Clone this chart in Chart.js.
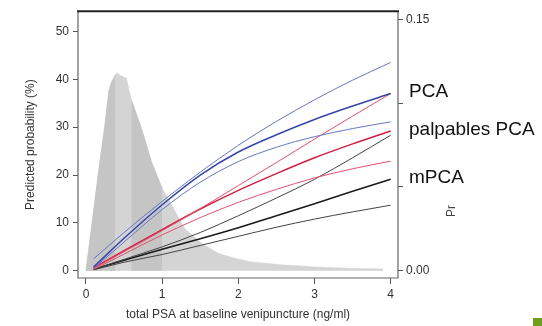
<!DOCTYPE html>
<html>
<head>
<meta charset="utf-8">
<script src="https://cdn.jsdelivr.net/npm/chart.js@4.4.1/dist/chart.umd.min.js"></script>
<style>
  html, body { margin: 0; padding: 0; background: #fff; }
  canvas { display: block; }
</style>
</head>
<body>
<canvas id="chart" width="542" height="326"></canvas>
<script>
// ---- data ----
const psa = [0.1, 0.5, 1, 1.5, 2, 2.5, 3, 3.5, 4];

// PCA (blue): upper, estimate, lower
const pcaUpper = [2.5, 8.0, 14.5, 20.6, 26.2, 31.2, 35.7, 39.8, 43.5];
const pcaMid   = [0.8, 6.8, 13.8, 20.0, 24.8, 28.4, 31.6, 34.4, 37.0];
const pcaLower = [0.5, 6.0, 12.8, 18.5, 22.8, 25.8, 28.0, 29.7, 31.1];

// palpables PCA (red)
const palpUpper = [0.5, 4.0, 8.4, 13.0, 17.8, 22.6, 27.5, 32.3, 37.0];
const palpMid   = [0.6, 4.2, 8.6, 12.9, 16.8, 20.3, 23.6, 26.5, 29.2];
const palpLower = [0.3, 3.5, 7.5, 11.1, 14.3, 17.0, 19.4, 21.3, 22.9];

// mPCA (black)
const mpcaUpper = [0.3, 2.4, 5.0, 8.0, 11.5, 15.2, 19.1, 23.6, 28.3];
const mpcaMid   = [0.3, 2.2, 4.5, 6.7, 9.0, 11.5, 14.0, 16.6, 19.1];
const mpcaLower = [0.2, 1.8, 3.4, 5.3, 7.2, 9.1, 10.8, 12.3, 13.7];

// distribution of total PSA (right axis)
const densX = [0, 0.1, 0.167, 0.245, 0.30, 0.33, 0.385, 0.41, 0.45, 0.53, 0.595, 0.73, 0.86,
               1.0, 1.15, 1.3, 1.52, 1.74, 1.96, 2.17, 2.6, 3.0, 3.5, 3.9];
const densY = [0, 0.0357, 0.060, 0.0857, 0.107, 0.112, 0.117, 0.118, 0.1166, 0.1149, 0.102, 0.0846, 0.0649,
               0.0491, 0.0371, 0.0249, 0.0163, 0.0103, 0.0074, 0.0053, 0.0034, 0.0023, 0.0014, 0.0011];
// darker shaded stretches of the distribution
const darkBands = [[0, 0.385], [0.595, 1.0]];

const xTicks = [0, 1, 2, 3, 4];
const leftTicks = [0, 10, 20, 30, 40, 50];
const rightTicks = [0, 0.05, 0.10, 0.15];
const groupLabels = ["PCA", "palpables PCA", "mPCA"];

// ---- build datasets ----
const FONT = "'Liberation Sans', Arial, sans-serif";
const LIGHT = "#d4d4d4";
const DARK = "#c5c5c5";

function pts(ys) {
  return psa.map((x, i) => ({ x: x, y: ys[i] }));
}

function line(ys, color, width) {
  return {
    data: pts(ys), yAxisID: "y", borderColor: color, borderWidth: width,
    pointRadius: 0, fill: false, cubicInterpolationMode: "monotone", order: 1
  };
}

function area(d, color, order) {
  return {
    data: d, yAxisID: "y2", borderWidth: 0.6, borderColor: color,
    backgroundColor: color, pointRadius: 0, fill: "origin", tension: 0, order: order
  };
}

const densSets = [area(densX.map((x, i) => ({ x: x, y: densY[i] })), LIGHT, 12)];
darkBands.forEach(([lo, hi]) => {
  const d = [];
  densX.forEach((x, i) => { if (x >= lo && x <= hi) d.push({ x: x, y: densY[i] }); });
  densSets.push(area(d, DARK, 11));
});

const datasets = densSets.concat([
  line(pcaUpper, "#6677c6", 1),
  line(pcaLower, "#6677c6", 1),
  line(pcaMid, "#3446a8", 1.5),
  line(palpUpper, "#e2506f", 1),
  line(palpLower, "#e2506f", 1),
  line(palpMid, "#d01f45", 1.5),
  line(mpcaUpper, "#444444", 1),
  line(mpcaLower, "#444444", 1),
  line(mpcaMid, "#1a1a1a", 1.5)
]);

// ---- decorations: box, labels, right title ----
const decor = {
  id: "decor",
  beforeDraw(chart) {
    const c = chart.ctx;
    c.save();
    c.fillStyle = "#fff";
    c.fillRect(0, 0, chart.width, chart.height);
    c.restore();
  },
  afterDraw(chart) {
    const c = chart.ctx;
    const a = chart.chartArea;
    c.save();
    // plot box
    c.strokeStyle = "#666";
    c.lineWidth = 1.2;
    c.beginPath();
    c.moveTo(a.left, a.top);
    c.lineTo(a.left, a.bottom);
    c.lineTo(a.right, a.bottom);
    c.lineTo(a.right, a.top);
    c.stroke();
    c.strokeStyle = "#222";
    c.lineWidth = 2;
    c.beginPath();
    c.moveTo(a.left - 1, a.top);
    c.lineTo(a.right + 1, a.top);
    c.stroke();

    // right axis title (mostly hidden in the original)
    c.fillStyle = "#444";
    c.font = "12px " + FONT;
    c.translate(452, 217);
    c.rotate(-Math.PI / 2);
    c.textAlign = "left";
    c.textBaseline = "middle";
    c.fillText("Pr", 0, 0);
    c.setTransform(1, 0, 0, 1, 0, 0);

    // white box with group labels
    c.fillStyle = "#fff";
    c.fillRect(404, 78, 138, 114);
    c.fillStyle = "#111";
    c.font = "19px " + FONT;
    c.textAlign = "left";
    c.textBaseline = "middle";
    const ys = [92, 130, 178];
    groupLabels.forEach((t, i) => c.fillText(t, 409, ys[i]));

    // green marker bottom right
    c.fillStyle = "#6f9e1e";
    c.fillRect(533, 318, 9, 8);
    c.restore();
  }
};

const tickFont = { family: FONT, size: 12 };

new Chart(document.getElementById("chart"), {
  type: "line",
  data: { datasets: datasets },
  options: {
    responsive: false,
    animation: false,
    layout: { padding: { top: 7, left: 0, right: 0, bottom: 0 } },
    plugins: { legend: { display: false }, tooltip: { enabled: false } },
    scales: {
      x: {
        type: "linear", position: "bottom", min: -0.105, max: 4.096,
        afterBuildTicks: s => { s.ticks = xTicks.map(v => ({ value: v })); },
        afterFit: s => { s.height = 48; },
        grid: { display: true, drawOnChartArea: false, drawTicks: true, tickLength: 6, color: "#555" },
        border: { display: false },
        ticks: { font: tickFont, color: "#333", padding: 3, maxRotation: 0 },
        title: { display: true, text: "total PSA at baseline venipuncture (ng/ml)",
                 font: tickFont, color: "#333", padding: { top: 0, bottom: 4 } }
      },
      y: {
        type: "linear", position: "left", min: -1.5, max: 54.2,
        afterBuildTicks: s => { s.ticks = leftTicks.map(v => ({ value: v })); },
        afterFit: s => { s.width = 78; },
        grid: { display: true, drawOnChartArea: false, drawTicks: true, tickLength: 5, color: "#555" },
        border: { display: false },
        ticks: { font: tickFont, color: "#333", padding: 4 },
        title: { display: true, text: "Predicted probability (%)",
                 font: tickFont, color: "#333", padding: { top: 23, bottom: 0 } }
      },
      y2: {
        type: "linear", position: "right", min: -0.0043, max: 0.1549,
        afterBuildTicks: s => { s.ticks = rightTicks.map(v => ({ value: v })); },
        afterFit: s => { s.width = 144; },
        grid: { display: true, drawOnChartArea: false, drawTicks: true, tickLength: 5, color: "#555" },
        border: { display: false },
        ticks: { font: tickFont, color: "#333", padding: 3, callback: v => v.toFixed(2) }
      }
    }
  },
  plugins: [decor]
});
</script>
</body>
</html>
